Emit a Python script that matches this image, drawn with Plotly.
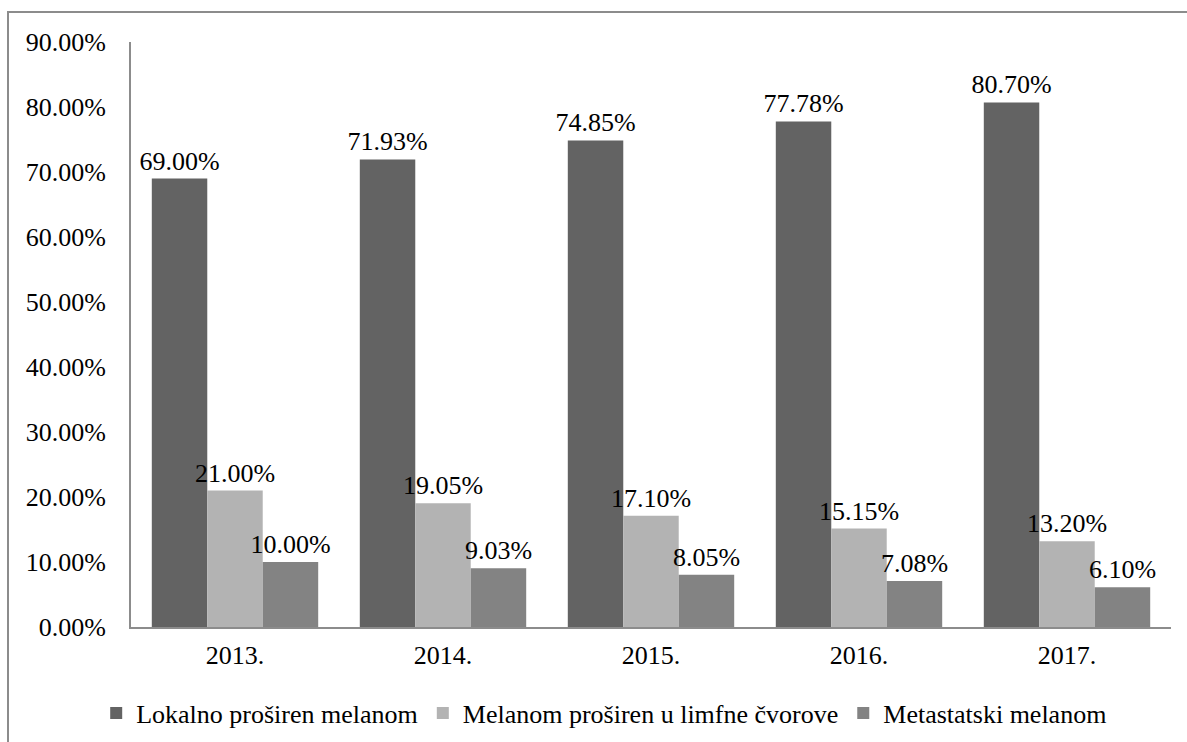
import plotly.graph_objects as go

years = ["2013.", "2014.", "2015.", "2016.", "2017."]
lokalno = [0.69, 0.7193, 0.7485, 0.7778, 0.8070]
limfni = [0.21, 0.1905, 0.1710, 0.1515, 0.1320]
metastatski = [0.10, 0.0903, 0.0805, 0.0708, 0.0610]
series_names = ["Lokalno proširen melanom", "Melanom proširen u limfne čvorove", "Metastatski melanom"]
colors = ["#636363", "#b3b3b3", "#838383"]

FONT = "Liberation Serif"
FS = 26
fig = go.Figure()
for name, vals, col in zip(series_names, [lokalno, limfni, metastatski], colors):
    fig.add_trace(go.Bar(
        x=years, y=vals, name=name,
        marker=dict(color=col, line=dict(width=0)),
        text=[f"{v*100:.2f}%" for v in vals],
        textposition="outside", cliponaxis=False, constraintext="none",
        textfont=dict(family=FONT, size=FS, color="#000"),
    ))

W, H = 1187, 742
L, R, T, B = 131, 16, 42, 115
pw, ph = W - L - R, H - T - B

fig.update_layout(
    width=W, height=H,
    margin=dict(l=L, r=R, t=T, b=B, autoexpand=False),
    barmode="group", bargap=0.2, bargroupgap=0,
    plot_bgcolor="white", paper_bgcolor="white",
    font=dict(family=FONT, size=FS, color="#000"),
    showlegend=True,
    legend=dict(orientation="h", x=0.455, xanchor="center", y=(T + ph - 713) / ph, yanchor="middle",
                font=dict(family=FONT, size=FS), itemwidth=30, traceorder="normal",
                itemclick=False),
    xaxis=dict(showline=True, linecolor="#8c8c8c", linewidth=2, ticks="", showgrid=False,
               ticklabelstandoff=4, tickfont=dict(family=FONT, size=FS)),
    yaxis=dict(range=[0, 0.9], dtick=0.1, tickformat=".2%", showline=True, linecolor="#8c8c8c",
               linewidth=2, showgrid=False, zeroline=False, ticks="", ticklabelstandoff=18,
               tickfont=dict(family=FONT, size=FS)),
)

fig.add_shape(type="rect", xref="paper", yref="paper",
              x0=(8 - L) / pw, x1=(W + 20 - L) / pw,
              y0=-(H + 20 - T - ph) / ph, y1=(T + ph - 12) / ph,
              line=dict(color="#8c8c8c", width=2), fillcolor="rgba(0,0,0,0)", layer="below")

fig.write_html("out.html", config={"displayModeBar": False},
               post_script="document.body.style.margin='0';document.body.style.overflow='hidden';")
